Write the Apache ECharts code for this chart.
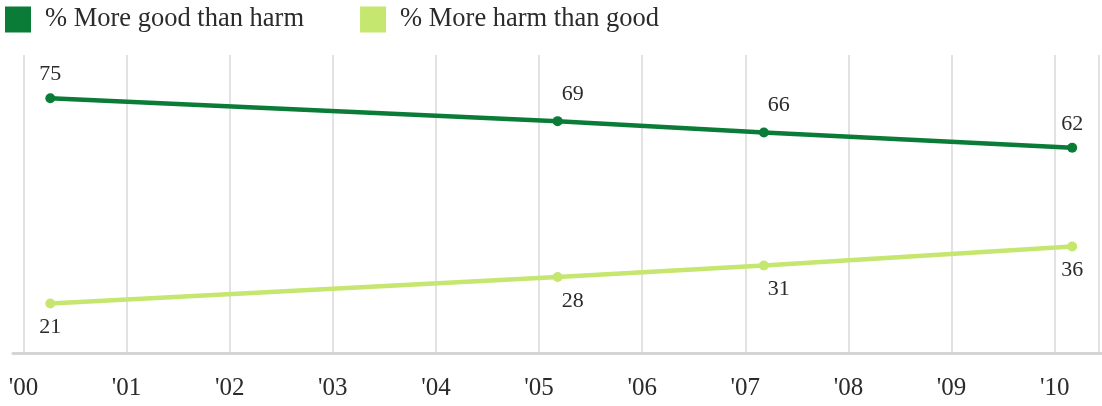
<!DOCTYPE html>
<html>
<head>
<meta charset="utf-8">
<script src="https://cdn.jsdelivr.net/npm/echarts@6/dist/echarts.min.js"></script>
<style>
html,body{margin:0;padding:0;background:#fff;overflow:hidden;}
#chart{width:1102px;height:406px;}
</style>
</head>
<body>
<div id="chart"></div>
<script>
// Survey dates (fractional years)
const surveyDates = [2000.26, 2005.18, 2007.18, 2010.17];
const moreGood = [75, 69, 66, 62];
const moreHarm = [21, 28, 31, 36];
const tickLabels = ["'00", "'01", "'02", "'03", "'04", "'05", "'06", "'07", "'08", "'09", "'10"];
const seriesNames = ['% More good than harm', '% More harm than good'];

const FONT = 'Liberation Serif';
const DARK = '#0b7c37';
const LIGHT = '#c5e66f';
const TEXT = '#2b2b2b';

function pts(vals, up) {
  return vals.map((v, i) => ({
    value: [surveyDates[i], v],
    label: { offset: (i === 1 || i === 2) ? [15, up ? -3 : 0] : [0, 0] }
  }));
}

const chart = echarts.init(document.getElementById('chart'), null, { renderer: 'canvas' });
chart.setOption({
  animation: false,
  backgroundColor: '#fff',
  textStyle: { fontFamily: FONT },
  legend: {
    left: 5, top: 6, padding: 0,
    itemWidth: 26, itemHeight: 26, itemGap: 56,
    icon: 'rect',
    data: seriesNames,
    textStyle: { fontFamily: FONT, fontSize: 26.5, color: TEXT, padding: [0, 0, 0, 9] }
  },
  grid: [
    // x range runs to the right edge so the last survey point sits inside it
    { left: 23.5, right: 0, top: 55, bottom: 53 },
    { left: 13, right: 0, top: 55, bottom: 53 }
  ],
  xAxis: [
    {
      type: 'value', gridIndex: 0, min: 2000, max: 2010.43, interval: 1,
      axisLine: { show: false }, axisTick: { show: false },
      splitLine: { show: true, lineStyle: { color: '#d8d8d8', width: 1.5 } },
      axisLabel: {
        margin: 23, fontFamily: FONT, fontSize: 25, color: TEXT,
        formatter: v => (Math.abs(v - Math.round(v)) < 1e-6 ? (tickLabels[Math.round(v - 2000)] || '') : '')
      }
    },
    {
      type: 'value', gridIndex: 1, min: 0, max: 1,
      axisLine: { show: true, onZero: false, lineStyle: { color: '#d5d5d5', width: 3 } },
      axisTick: { show: false }, axisLabel: { show: false }, splitLine: { show: false }
    }
  ],
  yAxis: [
    { type: 'value', gridIndex: 0, min: 8, max: 86.4, show: false, splitLine: { show: false } },
    { type: 'value', gridIndex: 1, min: 0, max: 1, show: false, splitLine: { show: false } }
  ],
  series: [
    {
      name: seriesNames[0], type: 'line', xAxisIndex: 0, yAxisIndex: 0,
      symbol: 'circle', symbolSize: 10,
      itemStyle: { color: DARK }, lineStyle: { color: DARK, width: 4.5 },
      label: { show: true, position: 'top', distance: 8, fontFamily: FONT, fontSize: 22, color: TEXT },
      data: pts(moreGood, true), z: 3
    },
    {
      name: seriesNames[1], type: 'line', xAxisIndex: 0, yAxisIndex: 0,
      symbol: 'circle', symbolSize: 10,
      itemStyle: { color: LIGHT }, lineStyle: { color: LIGHT, width: 4.5 },
      label: { show: true, position: 'bottom', distance: 8, fontFamily: FONT, fontSize: 22, color: TEXT },
      data: pts(moreHarm, false), z: 3
    }
  ]
});
</script>
</body>
</html>
